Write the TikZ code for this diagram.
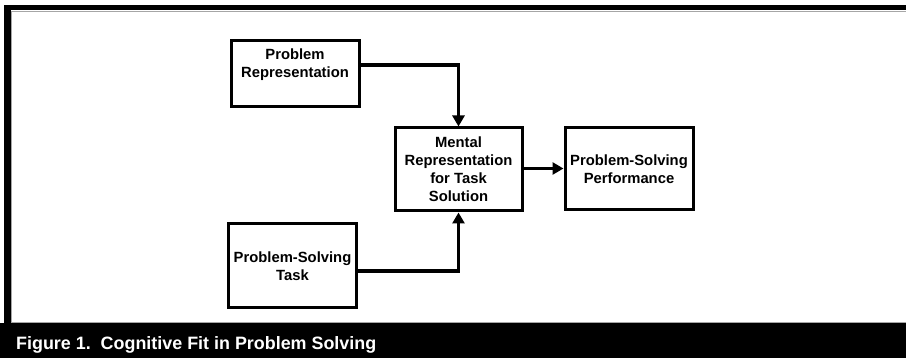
\documentclass[tikz,border=0pt]{standalone}
\usepackage{fontspec}
\setmainfont{Liberation Sans}
\usetikzlibrary{arrows.meta}
\begin{document}
\begin{tikzpicture}[x=1pt,y=-1pt,
  box/.style={draw=black, line width=3pt, fill=white, inner sep=0pt},
  boxtext/.style={align=center, inner sep=0pt,
    font=\fontsize{14.8}{18}\selectfont\bfseries},
  flow/.style={line width=3.2pt, -{Triangle[length=11pt,width=12pt]}}]
  % page and frame
  \useasboundingbox (0,0) rectangle (906,358);
  \fill[white] (0,0) rectangle (906,358);
  \fill[black] (5,5) rectangle (906,10.5);
  \fill[black] (4,5) rectangle (11,358);
  \draw[gray!70, line width=0.8pt] (11.4,11) -- (906,11);
  \draw[gray!70, line width=0.8pt] (11.4,11) -- (11.4,322);
  \fill[black] (0,323) rectangle (906,358);
  \draw[gray!70, line width=0.8pt] (11,322.6) -- (906,322.6);
  % boxes
  \node[box, minimum width=128pt, minimum height=66pt] (pr) at (295,74) {};
  \node[boxtext] (prt) at (295,65) {Problem\\Representation};
  \node[box, line width=2.3pt, minimum width=128pt, minimum height=84pt] (pst) at (292.5,265.5) {};
  \node[boxtext] (pstt) at (292.5,266) {Problem-Solving\\Task};
  \node[box, minimum width=127pt, minimum height=83pt] (mr) at (458.5,169.5) {};
  \node[boxtext] (mrt) at (458.5,169.5) {Mental\\Representation\\for Task\\Solution};
  \node[box, minimum width=128pt, minimum height=82pt] (psp) at (629,168.5) {};
  \node[boxtext] (pspt) at (629,169) {Problem-Solving\\Performance};
  % connectors
  \draw[flow] (prt.center -| pr.east) -| (mr.north);
  \draw[flow] ([yshift=-5.5pt]pst.east) -| (mr.south);
  \draw[flow] (psp.west -| mr.east) -- (psp.west);
  % caption
  \node[anchor=base west, inner sep=0pt, text=white,
    font=\fontsize{17.9}{20}\selectfont\bfseries] (cap) at (16,350)
    {Figure 1.\ \ Cognitive Fit in Problem Solving};
\end{tikzpicture}
\end{document}
